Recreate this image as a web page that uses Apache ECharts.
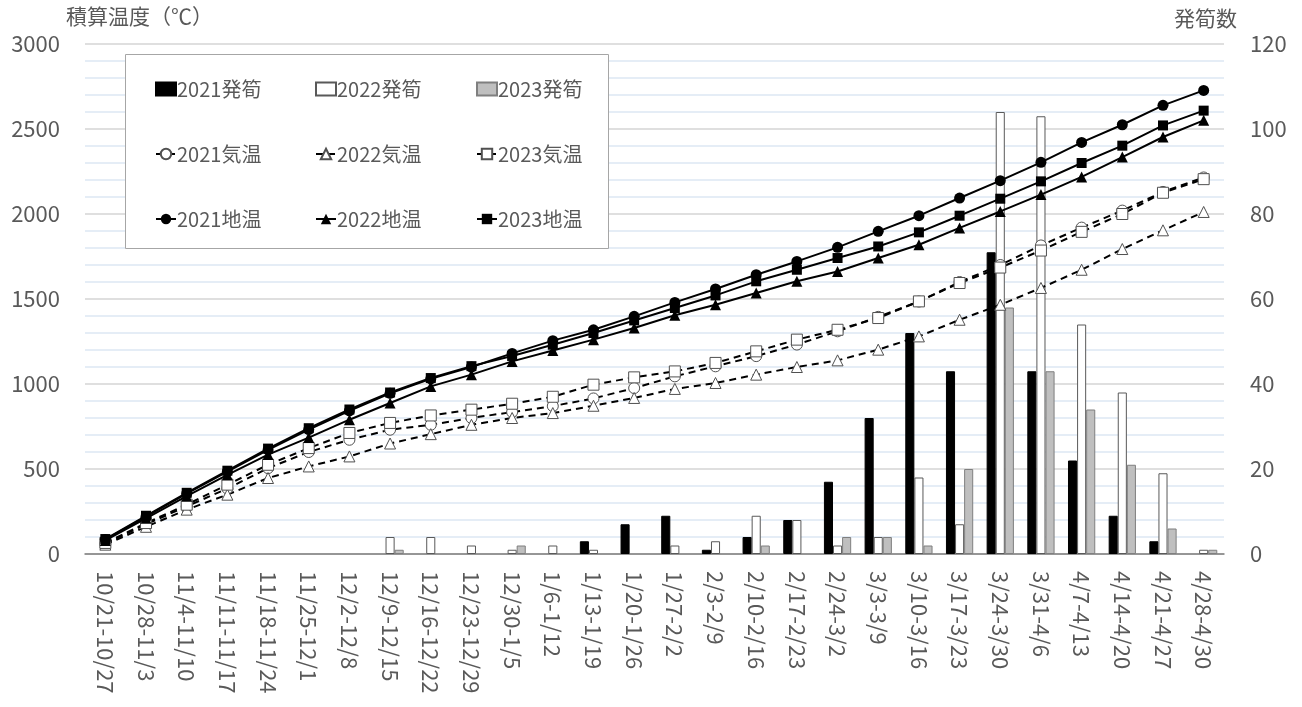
<!DOCTYPE html>
<html>
<head>
<meta charset="utf-8">
<script src="https://cdn.jsdelivr.net/npm/echarts@6/dist/echarts.min.js"></script>
<style>
  html, body { margin: 0; padding: 0; background: #ffffff; }
  #chart { width: 1302px; height: 707px; }
</style>
</head>
<body>
<div id="chart"></div>
<script>
// Weekly periods
const weeks = [
  '10/21-10/27', '10/28-11/3', '11/4-11/10', '11/11-11/17', '11/18-11/24',
  '11/25-12/1', '12/2-12/8', '12/9-12/15', '12/16-12/22', '12/23-12/29',
  '12/30-1/5', '1/6-1/12', '1/13-1/19', '1/20-1/26', '1/27-2/2',
  '2/3-2/9', '2/10-2/16', '2/17-2/23', '2/24-3/2', '3/3-3/9',
  '3/10-3/16', '3/17-3/23', '3/24-3/30', '3/31-4/6', '4/7-4/13',
  '4/14-4/20', '4/21-4/27', '4/28-4/30'
];

// Shoot emergence counts per week (right axis)
const shoots2021 = [0, 0, 0, 0, 0, 0, 0, 0, 0, 0, 0, 0, 3, 7, 9, 1, 4, 8, 17, 32, 52, 43, 71, 43, 22, 9, 3, 0];
const shoots2022 = [0, 0, 0, 0, 0, 0, 0, 4, 4, 2, 1, 2, 1, 0, 2, 3, 9, 8, 2, 4, 18, 7, 104, 103, 54, 38, 19, 1];
const shoots2023 = [0, 0, 0, 0, 0, 0, 0, 1, 0, 0, 2, 0, 0, 0, 0, 0, 2, 0, 4, 4, 2, 20, 58, 43, 34, 21, 6, 1];

// Accumulated air temperature (°C, left axis)
const air2021 = [60, 175, 280, 385, 505, 600, 672, 731, 760, 800, 835, 870, 915, 976, 1045, 1104, 1164, 1232, 1310, 1395, 1485, 1600, 1700, 1815, 1920, 2020, 2130, 2215];
const air2022 = [55, 160, 261, 349, 447, 515, 574, 650, 705, 760, 800, 829, 872, 918, 971, 1006, 1055, 1100, 1139, 1202, 1280, 1378, 1466, 1565, 1672, 1794, 1904, 2012];
const air2023 = [65, 182, 290, 408, 525, 623, 712, 771, 815, 849, 884, 925, 996, 1039, 1074, 1124, 1192, 1261, 1319, 1388, 1486, 1594, 1685, 1785, 1895, 2000, 2125, 2205];

// Accumulated soil temperature (°C, left axis)
const soil2021 = [85, 220, 355, 485, 612, 732, 842, 945, 1030, 1100, 1180, 1255, 1319, 1398, 1480, 1559, 1643, 1721, 1804, 1898, 1990, 2094, 2196, 2304, 2421, 2525, 2639, 2727];
const soil2022 = [80, 210, 340, 465, 585, 685, 790, 888, 986, 1055, 1133, 1197, 1261, 1329, 1404, 1466, 1535, 1604, 1662, 1741, 1819, 1918, 2015, 2114, 2218, 2335, 2453, 2551];
const soil2023 = [88, 225, 360, 490, 620, 740, 850, 950, 1035, 1105, 1165, 1231, 1300, 1374, 1447, 1521, 1604, 1672, 1741, 1809, 1892, 1990, 2090, 2192, 2300, 2402, 2521, 2608];

// Axis ticks
const leftAxis = { min: 0, max: 3000, interval: 500 };
const rightAxis = { min: 0, max: 120, interval: 20 };

const FONT = '"Noto Sans CJK JP", "Noto Sans", sans-serif';
const TEXT = '#595959';

// Weeks without any shoots get no bar at all
function barSeries(name, data, fill, border) {
  return {
    name, type: 'bar', yAxisIndex: 1,
    data: data.map(v => (v === 0 ? null : v)),
    barGap: '0%', barCategoryGap: '33%',
    itemStyle: { color: fill, borderColor: border, borderWidth: 1 },
    emphasis: { disabled: true }, z: 2
  };
}

function airSeries(name, data, symbol) {
  return {
    name, type: 'line', data, symbol, symbolSize: 11,
    lineStyle: { color: '#000', width: 2, type: [7, 5] },
    itemStyle: { color: '#ffffff', borderColor: '#505050', borderWidth: 1 },
    emphasis: { disabled: true }, z: 3
  };
}

function soilSeries(name, data, symbol) {
  return {
    name, type: 'line', data, symbol, symbolSize: symbol === 'rect' ? 10 : 11,
    lineStyle: { color: '#000', width: 2 },
    itemStyle: { color: '#000', borderColor: '#000', borderWidth: 0 },
    emphasis: { disabled: true }, z: 4
  };
}

function legendColumn(left, bar, air, soil) {
  return {
    orient: 'vertical', left, top: 74, itemGap: 45,
    itemWidth: 20, itemHeight: 13,
    textStyle: { fontFamily: FONT, fontSize: 20, color: TEXT, padding: [0, 0, 0, -4] },
    selectedMode: false,
    data: [{ name: bar, icon: 'rect' }, { name: air }, { name: soil }],
    z: 5
  };
}

const chart = echarts.init(document.getElementById('chart'), null, { renderer: 'canvas' });

chart.setOption({
  animation: false,
  backgroundColor: '#ffffff',
  grid: { left: 85, right: 78, top: 44, bottom: 153, containLabel: false },
  legend: [
    legendColumn(150, '2021発筍', '2021気温', '2021地温'),
    legendColumn(310, '2022発筍', '2022気温', '2022地温'),
    legendColumn(471, '2023発筍', '2023気温', '2023地温')
  ],
  graphic: [
    { type: 'rect', shape: { x: 125.5, y: 54.5, width: 483, height: 194 },
      style: { fill: '#ffffff', stroke: '#a6a6a6', lineWidth: 1 }, z: 1 },
    { type: 'text', left: 66, top: 6,
      style: { text: '積算温度（℃）', font: '21px ' + FONT, fill: TEXT }, z: 5 },
    { type: 'text', left: 1174, top: 8,
      style: { text: '発筍数', font: '21px ' + FONT, fill: TEXT }, z: 5 }
  ],
  xAxis: {
    type: 'category', data: weeks,
    axisLine: { lineStyle: { color: '#7f7f7f', width: 1.5 } },
    axisTick: { show: false },
    axisLabel: { rotate: -90, interval: 0, margin: 17, fontFamily: FONT, fontSize: 22, color: TEXT }
  },
  yAxis: [
    {
      type: 'value', min: leftAxis.min, max: leftAxis.max, interval: leftAxis.interval,
      axisLine: { show: false }, axisTick: { show: false },
      axisLabel: { margin: 25, fontFamily: FONT, fontSize: 22, color: TEXT, formatter: v => String(v) },
      splitLine: { show: true, lineStyle: { color: '#d4d4d4', width: 1.5 } },
      minorTick: { show: false, splitNumber: 5 },
      minorSplitLine: { show: true, lineStyle: { color: '#dde8f4', width: 1.5 } }
    },
    {
      type: 'value', min: rightAxis.min, max: rightAxis.max, interval: rightAxis.interval,
      axisLine: { show: false }, axisTick: { show: false },
      axisLabel: { margin: 26, fontFamily: FONT, fontSize: 22, color: TEXT, formatter: v => String(v) },
      splitLine: { show: false }
    }
  ],
  series: [
    barSeries('2021発筍', shoots2021, '#000000', '#000000'),
    barSeries('2022発筍', shoots2022, '#ffffff', '#595959'),
    barSeries('2023発筍', shoots2023, '#bfbfbf', '#7f7f7f'),
    airSeries('2021気温', air2021, 'circle'),
    airSeries('2022気温', air2022, 'triangle'),
    airSeries('2023気温', air2023, 'rect'),
    soilSeries('2021地温', soil2021, 'circle'),
    soilSeries('2022地温', soil2022, 'triangle'),
    soilSeries('2023地温', soil2023, 'rect')
  ]
});
</script>
</body>
</html>
